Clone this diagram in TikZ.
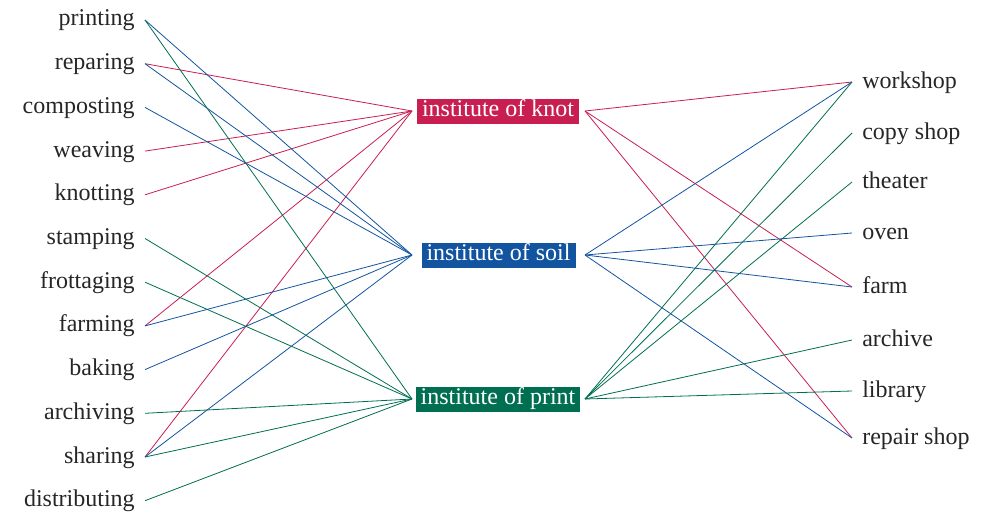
\documentclass[tikz,border=0pt]{standalone}
\usepackage{fontspec}
\setmainfont{Liberation Serif}
\usepackage{tikz}
\usetikzlibrary{positioning}

\definecolor{knotred}{RGB}{200,30,82}
\definecolor{soilblue}{RGB}{18,84,160}
\definecolor{printgreen}{RGB}{0,110,80}

\begin{document}
\begin{tikzpicture}[
  x=0.75pt,y=-0.75pt,
  font=\fontsize{18}{20}\selectfont,
  word/.style={text=black!85,inner xsep=7.5pt,inner ysep=0pt,text height=12.6pt,text depth=3.6pt},
  lword/.style={word,anchor=east},
  rword/.style={word,anchor=west},
  inst/.style={text=white,inner xsep=3.75pt,inner ysep=0pt,minimum height=18.75pt,text height=11.5pt,text depth=3.7pt},
  knotline/.style={draw=knotred,line width=0.6pt},
  soilline/.style={draw=soilblue,line width=0.6pt},
  printline/.style={draw=printgreen,line width=0.6pt}
]
\useasboundingbox (0,0) rectangle (993,514);

% activities
\node[lword] (printing) at (145,20) {printing};
\node[lword] (reparing) at (145,63.7) {reparing};
\node[lword] (composting) at (145,107.4) {composting};
\node[lword] (weaving) at (145,151.1) {weaving};
\node[lword] (knotting) at (145,194.8) {knotting};
\node[lword] (stamping) at (145,238.5) {stamping};
\node[lword] (frottaging) at (145,282.2) {frottaging};
\node[lword] (farming) at (145,325.9) {farming};
\node[lword] (baking) at (145,369.6) {baking};
\node[lword] (archiving) at (145,413.3) {archiving};
\node[lword] (sharing) at (145,457) {sharing};
\node[lword] (distributing) at (145,500.7) {distributing};

% institutes
\node[inst,fill=knotred] (knot) at (498,111.5) {institute of knot};
\node[inst,fill=soilblue] (soil) at (498.5,255.5) {institute of soil};
\node[inst,fill=printgreen] (print) at (498,399.5) {institute of print};
\coordinate (knotL) at (412,111);
\coordinate (knotR) at (585,111);
\coordinate (soilL) at (412,255);
\coordinate (soilR) at (585,255);
\coordinate (printL) at (412,399);
\coordinate (printR) at (585,399);

% places
\node[rword] (workshop) at (852,82) {workshop};
\node[rword] (copyshop) at (852,133) {copy shop};
\node[rword] (theater) at (852,182) {theater};
\node[rword] (oven) at (852,233) {oven};
\node[rword] (farm) at (852,287) {farm};
\node[rword] (archive) at (852,340) {archive};
\node[rword] (library) at (852,391) {library};
\node[rword] (repairshop) at (852,438) {repair shop};

% left side
\draw[knotline] (reparing.east) -- (knotL);
\draw[knotline] (weaving.east) -- (knotL);
\draw[knotline] (knotting.east) -- (knotL);
\draw[knotline] (farming.east) -- (knotL);
\draw[knotline] (sharing.east) -- (knotL);

\draw[soilline] (printing.east) -- (soilL);
\draw[soilline] (reparing.east) -- (soilL);
\draw[soilline] (composting.east) -- (soilL);
\draw[soilline] (farming.east) -- (soilL);
\draw[soilline] (baking.east) -- (soilL);
\draw[soilline] (sharing.east) -- (soilL);

\draw[printline] (printing.east) -- (printL);
\draw[printline] (stamping.east) -- (printL);
\draw[printline] (frottaging.east) -- (printL);
\draw[printline] (archiving.east) -- (printL);
\draw[printline] (sharing.east) -- (printL);
\draw[printline] (distributing.east) -- (printL);

% right side
\draw[knotline] (knotR) -- (workshop.west);
\draw[knotline] (knotR) -- (farm.west);
\draw[knotline] (knotR) -- (repairshop.west);

\draw[soilline] (soilR) -- (workshop.west);
\draw[soilline] (soilR) -- (oven.west);
\draw[soilline] (soilR) -- (farm.west);
\draw[soilline] (soilR) -- (repairshop.west);

\draw[printline] (printR) -- (workshop.west);
\draw[printline] (printR) -- (copyshop.west);
\draw[printline] (printR) -- (theater.west);
\draw[printline] (printR) -- (archive.west);
\draw[printline] (printR) -- (library.west);
\end{tikzpicture}
\end{document}
